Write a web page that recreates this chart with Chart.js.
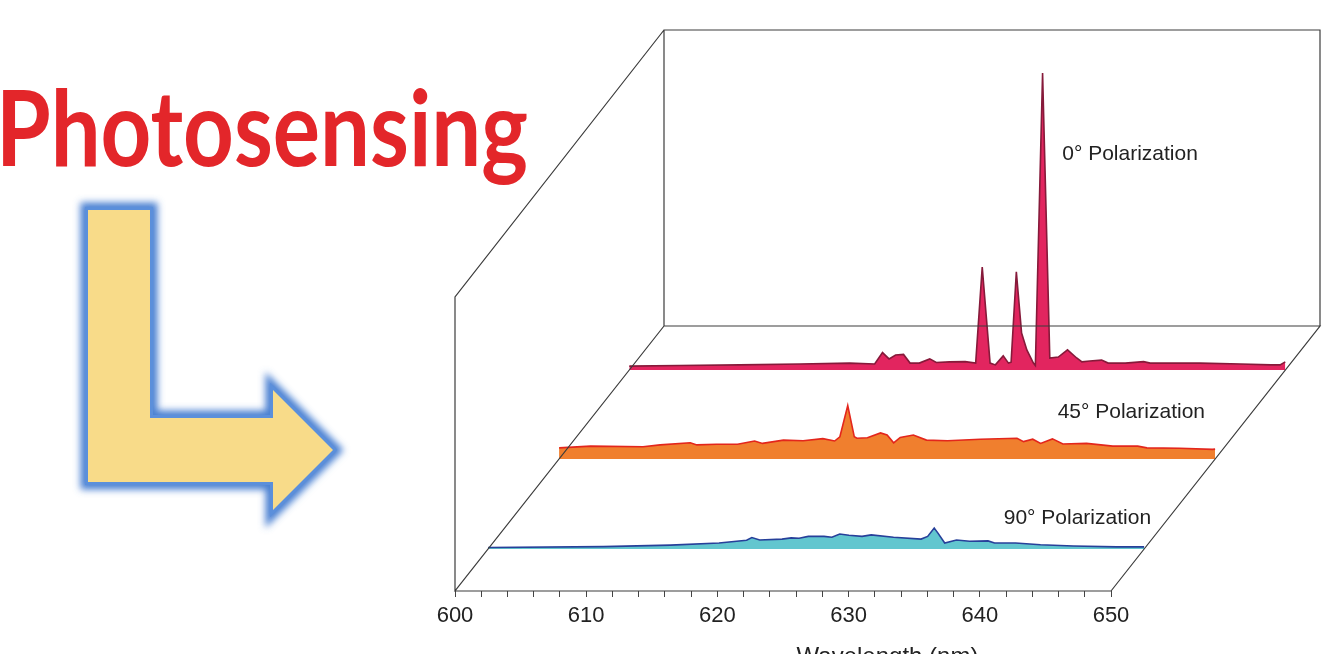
<!DOCTYPE html>
<html>
<head>
<meta charset="utf-8">
<script src="https://cdn.jsdelivr.net/npm/chart.js@4.4.1/dist/chart.umd.min.js"></script>
<style>
  html, body { margin: 0; padding: 0; background: #fff; overflow: hidden; }
  #wrap { position: relative; width: 1336px; height: 654px; }
  #deco, #c { position: absolute; left: 0; top: 0; }
</style>
</head>
<body>
<div id="wrap">
  <svg id="deco" width="1336" height="654">
    <defs>
      <filter id="glow" x="-30%" y="-30%" width="160%" height="160%">
        <feGaussianBlur stdDeviation="3.5"/>
      </filter>
    </defs>
    <text x="-4" y="166" font-family="Lato" font-weight="700" font-size="106" fill="#e3262a"
          textLength="532" lengthAdjust="spacingAndGlyphs">Photosensing</text>
    <polygon points="88,210 150,210 150,418 273,418 273,390 333,450 273,510 273,482 88,482"
             fill="none" stroke="#4a80d2" stroke-width="15" stroke-linejoin="miter" filter="url(#glow)"/>
    <polygon points="88,210 150,210 150,418 273,418 273,390 333,450 273,510 273,482 88,482"
             fill="none" stroke="#5b8fdb" stroke-width="6" stroke-linejoin="miter"/>
    <polygon points="88,210 150,210 150,418 273,418 273,390 333,450 273,510 273,482 88,482" fill="#f8db89"/>
  </svg>
  <canvas id="c" width="1336" height="654"></canvas>
</div>

<script>
// Wavelength axis
const wlMin = 600;
const wlMax = 650;
const tickStep = 2;
const axisTitle = 'Wavelength (nm)';

// 0° polarization (back row)
const wl0 = [600, 603.8, 608.4, 613.0, 616.8, 618.7, 619.3, 619.8, 620.3, 620.9, 621.4, 622.1, 622.9, 623.4,
  624.4, 625.6, 626.4, 626.9, 627.5, 627.9, 628.5, 628.9, 629.1, 629.5, 629.9, 630.3, 630.8, 630.95,
  631.5, 632.05, 632.7, 633.4, 634.1, 634.5, 635.1, 636.0, 636.5, 637.8, 639.2, 639.7, 643.5, 646.6,
  648.9, 649.6, 650];
const int0 = [1.3, 1.5, 1.7, 2.0, 2.3, 2.0, 5.8, 3.7, 5.0, 5.2, 2.3, 2.3, 3.7, 2.5,
  2.7, 2.8, 2.3, 34.3, 2.3, 1.7, 4.7, 2.3, 2.6, 32.7, 12.3, 6.7, 2.3, 1.5,
  99, 4.0, 4.3, 6.7, 4.0, 2.7, 3.0, 3.3, 2.3, 2.3, 2.8, 2.3, 2.3, 2.0,
  1.7, 1.7, 2.7];

// 45° polarization (middle row)
const wl45 = [600.0, 602.4, 606.4, 607.7, 610.0, 610.5, 612.0, 613.6, 614.9, 615.5, 617.1, 618.6, 620.1,
  621.0, 621.4, 622.0, 622.5, 622.7, 623.5, 624.5, 625.0, 625.5, 626.0, 627.0, 628.0, 629.6, 632.1,
  634.9, 635.4, 636.1, 636.7, 637.6, 638.4, 640.2, 642.2, 644.1, 644.8, 647.3, 649.8, 650];
const int45 = [3.7, 4.3, 4.1, 4.7, 5.4, 4.7, 4.9, 4.9, 6.0, 5.2, 6.3, 6.1, 6.8,
  6.0, 7.4, 17.8, 7.4, 6.9, 7.1, 8.7, 8.0, 5.4, 7.2, 8.0, 6.3, 6.1, 6.6,
  6.9, 5.8, 6.6, 5.2, 6.7, 5.0, 5.2, 4.3, 4.3, 3.7, 3.6, 3.2, 3.3];

// 90° polarization (front row)
const wl90 = [600, 608.8, 613.9, 617.6, 619.7, 620.1, 620.7, 622.4, 623.1, 623.7, 624.4, 625.6, 626.2,
  626.8, 627.5, 628.5, 629.2, 630.9, 633.0, 633.5, 634.0, 634.3, 634.8, 635.7, 636.7, 638.1, 638.6,
  640.2, 642.1, 644.6, 647.9, 650];
const int90 = [0.5, 0.8, 1.3, 2.0, 2.9, 3.8, 3.0, 3.3, 3.7, 3.6, 4.2, 4.2, 3.9,
  5.0, 4.6, 4.2, 4.7, 3.9, 3.3, 4.2, 7.0, 5.2, 2.0, 3.0, 2.6, 2.7, 2.0,
  2.0, 1.4, 1.0, 0.7, 0.7];

const seriesLabels = ['0° Polarization', '45° Polarization', '90° Polarization'];

// --- layout of the pseudo-3D box (pixels) ---
const W = 1336, H = 654;
const PLOT_LEFT = 455;        // 600 nm on the front axis
const FRONT_W = 656;          // 600 -> 650 nm
const BACK_RIGHT = 1320;
const PLOT_TOP = 30;
const AXIS_Y = 591;
const DEPTH_DX = 209, DEPTH_DY = 265;
const PX_PER_NM = FRONT_W / (wlMax - wlMin);
const PX_PER_UNIT = 3;
const AREA_W = BACK_RIGHT - PLOT_LEFT;
const AREA_H = AXIS_Y - PLOT_TOP;

const rows = [
  { id: '0',  wl: wl0,  val: int0,  depth: 221, fill: '#e2255f', line: '#861a3a', lab: [633.0, 70] },
  { id: '45', wl: wl45, val: int45, depth: 132, fill: '#f07f2e', line: '#e3261c', lab: [638.0, 13.7] },
  { id: '90', wl: wl90, val: int90, depth: 42,  fill: '#62c6cf', line: '#27409a', lab: [639.3, 8.3] }
];

const FONT = '"Liberation Sans", Arial, sans-serif';
Chart.defaults.font.family = FONT;

const scales = {
  x: {
    type: 'linear',
    position: 'bottom',
    min: wlMin,
    max: wlMin + AREA_W / PX_PER_NM,
    afterBuildTicks: s => { s.ticks = s.ticks.filter(t => t.value <= wlMax + 0.001); },
    afterFit: s => { s.height = H - AXIS_Y; },
    ticks: {
      stepSize: tickStep,
      autoSkip: false,
      maxRotation: 0,
      padding: 6,
      color: '#222',
      font: { size: 22 },
      callback: v => (Math.round(v) % 10 === 0 ? String(Math.round(v)) : '')
    },
    grid: { drawOnChartArea: false, drawTicks: true, tickLength: 6, color: '#444', lineWidth: 1 },
    border: { display: false },
    title: {
      display: true, text: axisTitle, color: '#222',
      font: { size: 24 }, padding: { top: 0, bottom: -18 }
    }
  }
};

const datasets = rows.map(r => {
  const dx = r.depth * DEPTH_DX / DEPTH_DY;
  const xMin = wlMin - dx / PX_PER_NM;
  scales['x' + r.id] = { type: 'linear', display: false, min: xMin, max: xMin + AREA_W / PX_PER_NM };
  scales['y' + r.id] = {
    type: 'linear', display: false,
    min: -r.depth / PX_PER_UNIT, max: (AREA_H - r.depth) / PX_PER_UNIT
  };
  return {
    data: r.wl.map((w, i) => ({ x: w, y: r.val[i] })),
    xAxisID: 'x' + r.id,
    yAxisID: 'y' + r.id,
    borderColor: r.line,
    backgroundColor: r.fill,
    borderWidth: 1.6,
    fill: 'origin',
    tension: 0,
    pointRadius: 0,
    clip: false
  };
});

// box frame + row labels
const frame3d = {
  id: 'frame3d',
  afterDatasetsDraw(chart) {
    const { ctx, chartArea } = chart;
    const xs = chart.scales.x;
    const x0 = xs.getPixelForValue(wlMin), x1 = xs.getPixelForValue(wlMax);
    const yb = chartArea.bottom, yt = chartArea.top;
    const bx0 = x0 + DEPTH_DX, bx1 = x1 + DEPTH_DX, by = yb - DEPTH_DY;
    const wallH = by - yt;
    ctx.save();
    ctx.strokeStyle = '#3c3c3c';
    ctx.lineWidth = 1.2;
    ctx.beginPath();
    ctx.moveTo(x0, yb); ctx.lineTo(x1, yb); ctx.lineTo(bx1, by); ctx.lineTo(bx0, by); ctx.closePath();
    ctx.moveTo(bx0, by); ctx.lineTo(bx0, yt); ctx.lineTo(bx1, yt); ctx.lineTo(bx1, by);
    ctx.moveTo(x0, yb); ctx.lineTo(x0, yb - wallH + 2); ctx.lineTo(bx0, yt);
    ctx.stroke();

    ctx.fillStyle = '#222';
    ctx.font = '21px ' + FONT;
    ctx.textBaseline = 'alphabetic';
    rows.forEach((r, i) => {
      const px = chart.scales['x' + r.id].getPixelForValue(r.lab[0]);
      const py = chart.scales['y' + r.id].getPixelForValue(r.lab[1]);
      ctx.fillText(seriesLabels[i], px, py);
    });
    ctx.restore();
  }
};

new Chart(document.getElementById('c'), {
  type: 'line',
  data: { datasets },
  options: {
    responsive: false,
    animation: false,
    devicePixelRatio: 1,
    layout: { padding: { left: PLOT_LEFT, right: W - BACK_RIGHT, top: PLOT_TOP, bottom: 0 } },
    plugins: { legend: { display: false }, tooltip: { enabled: false } },
    scales
  },
  plugins: [frame3d]
});
</script>
</body>
</html>
